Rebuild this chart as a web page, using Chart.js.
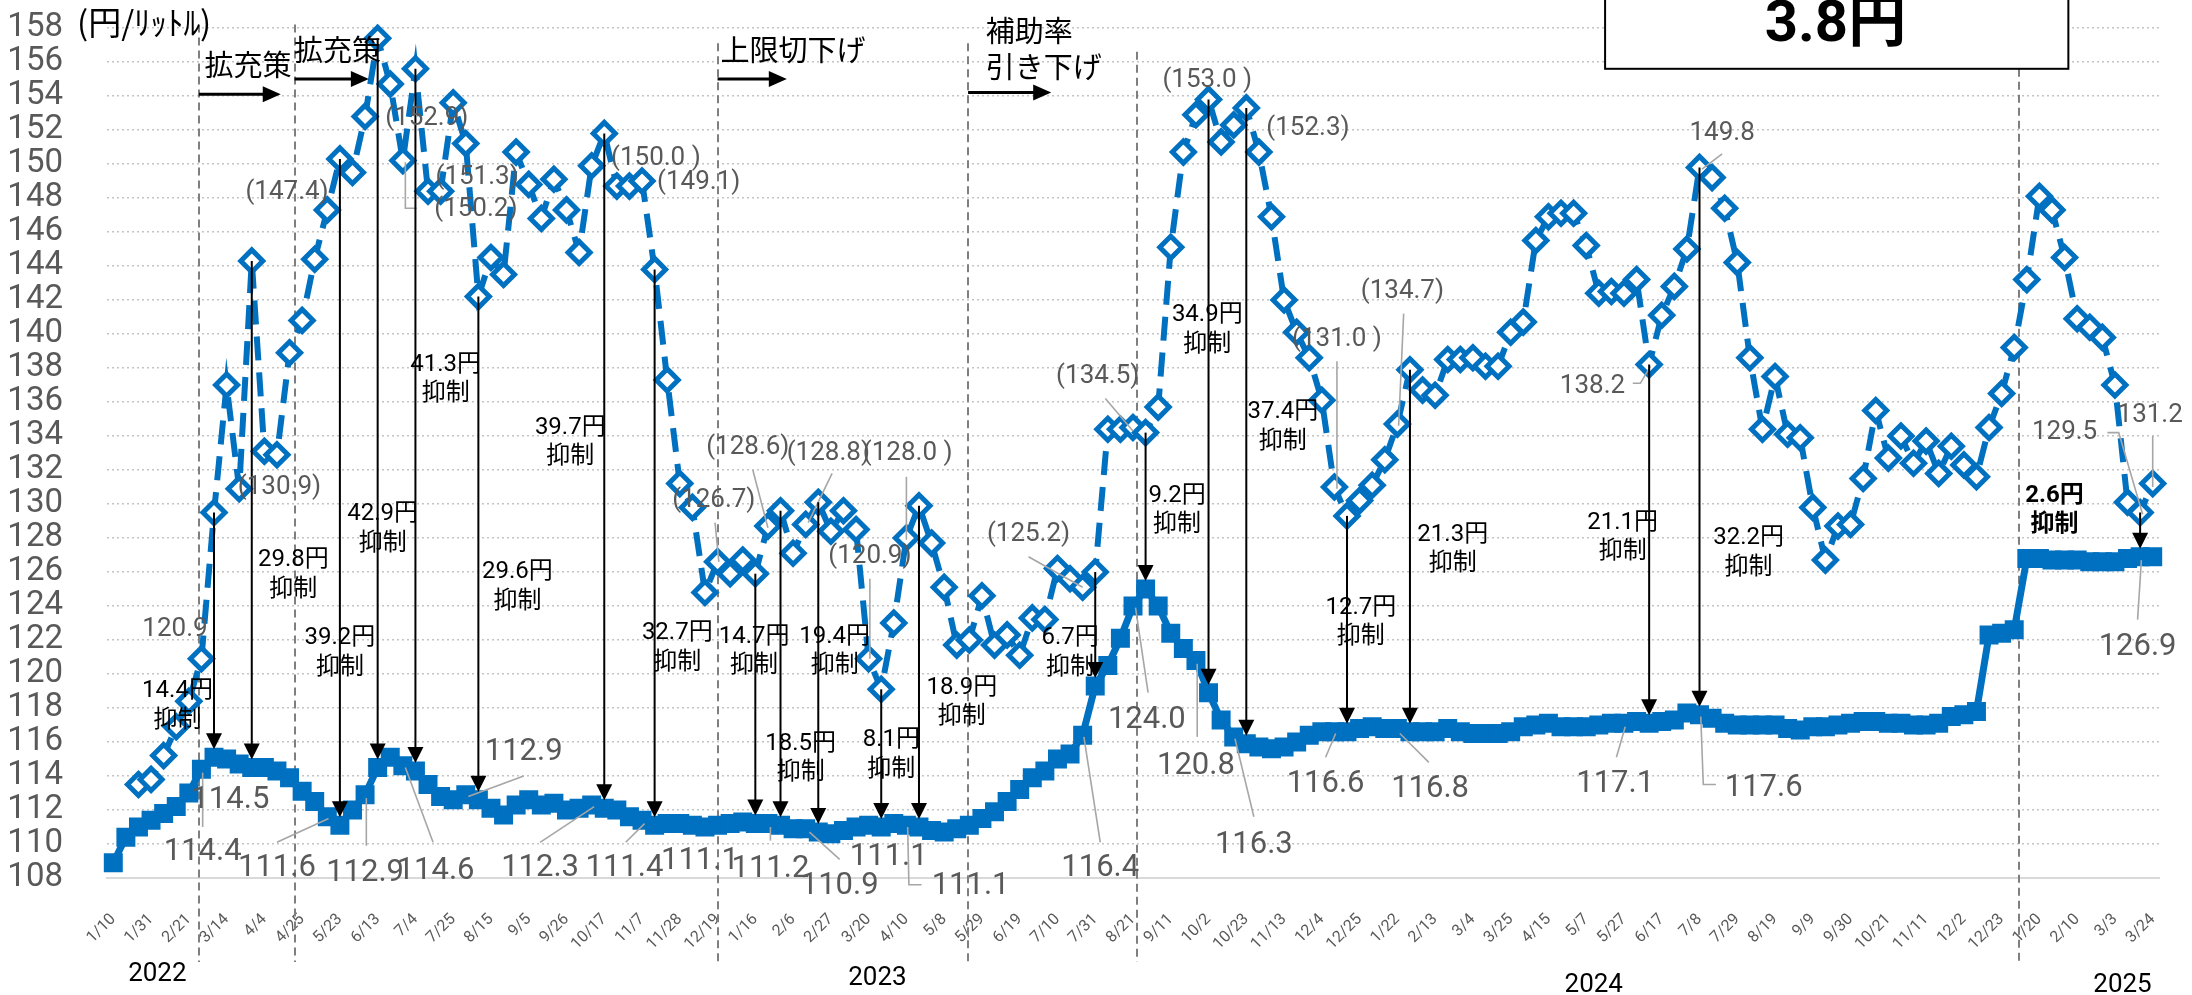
<!DOCTYPE html>
<html>
<head>
<meta charset="utf-8">
<script src="https://cdn.jsdelivr.net/npm/chart.js@4.4.1/dist/chart.umd.min.js"></script>
<style>
  html, body { margin: 0; padding: 0; background: #fff; }
</style>
</head>
<body>
<canvas id="chart" width="2192" height="995"></canvas>
<script>
// 週ごとの目盛り（3週おき）
const tickLabels = ['1/10','1/31','2/21','3/14','4/4','4/25','5/23','6/13','7/4','7/25','8/15','9/5','9/26','10/17','11/7','11/28','12/19',
  '1/16','2/6','2/27','3/20','4/10','5/8','5/29','6/19','7/10','7/31','8/21','9/11','10/2','10/23','11/13','12/4','12/25',
  '1/22','2/13','3/4','3/25','4/15','5/7','5/27','6/17','7/8','7/29','8/19','9/9','9/30','10/21','11/11','12/2','12/23',
  '1/20','2/10','3/3','3/24'];

// 補助後の価格（実線）
const actualPrice = [
  108.9,110.4,111.0,111.4,111.8,112.2,113.0,114.4,115.1,115.0,114.7,114.5,114.5,114.3,113.9,113.1,112.5,111.6,111.1,112.0,
  112.9,114.5,115.1,114.6,114.3,113.5,112.8,112.6,112.9,112.6,112.1,111.7,112.3,112.6,112.3,112.4,112.0,112.1,112.3,112.1,
  112.0,111.6,111.4,111.1,111.2,111.2,111.1,111.0,111.1,111.2,111.3,111.2,111.2,111.1,110.9,110.9,110.7,110.6,110.8,111.0,
  111.1,111.0,111.2,111.1,111.0,110.8,110.7,110.9,111.1,111.5,111.9,112.5,113.2,113.9,114.3,115.0,115.3,116.4,119.3,120.5,
  122.1,124.0,125.0,124.0,122.4,121.5,120.8,118.9,117.3,116.3,115.9,115.7,115.6,115.7,116.0,116.4,116.6,116.6,116.6,116.8,
  116.9,116.8,116.8,116.6,116.6,116.6,116.8,116.6,116.5,116.5,116.5,116.6,116.9,117.0,117.1,116.9,116.9,116.9,117.0,117.1,
  117.1,117.2,117.1,117.2,117.3,117.7,117.6,117.4,117.1,117.0,117.0,117.0,117.0,116.8,116.7,116.9,116.9,117.0,117.1,117.2,
  117.2,117.1,117.1,117.0,117.0,117.1,117.5,117.6,117.8,122.3,122.4,122.6,126.8,126.8,126.7,126.7,126.7,126.6,126.6,126.6,
  126.8,126.9,126.9
];

// 補助がない場合の価格（破線）
const noSubsidyPrice = [
  null,null,113.5,113.8,115.2,116.9,118.4,120.9,129.5,137.0,130.9,144.3,133.1,132.9,138.9,140.8,144.4,147.3,150.3,149.5,
  152.8,157.4,154.7,150.2,155.6,148.4,148.4,153.6,151.2,142.2,144.5,143.5,150.7,148.8,146.8,149.1,147.3,144.8,149.9,151.8,
  148.7,148.7,149.0,143.8,137.3,131.2,129.8,124.8,126.6,125.9,126.7,125.9,128.7,129.6,127.1,128.8,130.1,128.4,129.6,128.5,
  120.9,119.1,123.0,128.0,129.9,127.7,125.1,121.7,122.0,124.6,121.7,122.3,121.1,123.3,123.2,126.2,125.6,125.1,126.0,134.4,
  134.4,134.5,134.2,135.7,145.1,150.7,152.9,153.8,151.3,152.3,153.3,150.7,146.9,142.0,140.1,138.6,136.1,131.0,129.3,130.2,
  131.1,132.6,134.7,137.9,136.7,136.4,138.5,138.5,138.6,138.1,138.1,140.1,140.7,145.5,146.9,147.1,147.1,145.2,142.4,142.5,
  142.4,143.2,138.2,141.1,142.8,145.0,149.8,149.2,147.4,144.2,138.6,134.4,137.5,134.1,133.9,129.8,126.7,128.7,128.8,131.5,
  135.5,132.7,134.0,132.4,133.7,131.8,133.4,132.3,131.6,134.5,136.5,139.2,143.2,148.1,147.3,144.5,140.9,140.4,139.8,137.0,
  130.1,129.5,131.2
];

// 抑制額の矢印: [週, 文字, 文字の位置(週), 文字の位置(値), 太字]
const arrowNotes = [
  [8, '14.4円', 5.1, 119.0], [11, '29.8円', 14.3, 126.7], [18, '39.2円', 18.0, 122.1],
  [21, '42.9円', 21.4, 129.4], [24, '41.3円', 26.4, 138.2], [29, '29.6円', 32.1, 126.0],
  [39, '39.7円', 36.3, 134.5], [43, '32.7円', 44.8, 122.4], [51, '14.7円', 50.9, 122.2],
  [53, '18.5円', 54.6, 115.9], [56, '19.4円', 57.3, 122.2], [61, '8.1円', 61.8, 116.1],
  [64, '18.9円', 67.4, 119.2], [78, '6.7円', 76.0, 122.1], [82, '9.2円', 84.5, 130.5],
  [87, '34.9円', 86.9, 141.1], [90, '37.4円', 92.9, 135.4], [98, '12.7円', 99.1, 123.9],
  [103, '21.3円', 106.4, 128.2], [122, '21.1円', 119.9, 128.9], [126, '32.2円', 129.9, 128.0],
  [161, '2.6円', 154.2, 130.5, true]
];

// 実線のデータラベル: [文字, 週, 値, 引出線]
const actualLabels = [
  ['114.4', 7.1, 109.5, [[7.1,111.0],[7.1,114.2]]],
  ['114.5', 9.3, 112.6],
  ['111.6', 13.0, 108.6, [[13.0,110.1],[17.1,111.5]]],
  ['112.9', 20.0, 108.3, [[20.1,109.9],[20.1,112.7]]],
  ['114.6', 25.6, 108.4, [[25.4,110.1],[23.2,114.5]]],
  ['112.9', 32.6, 115.4, [[32.6,114.0],[28.2,112.8]]],
  ['112.3', 33.9, 108.6, [[33.9,110.1],[38.2,112.2]]],
  ['111.4', 40.6, 108.6, [[40.7,110.1],[42.2,111.2]]],
  ['111.1', 46.6, 109.0],
  ['111.2', 52.2, 108.5, [[52.2,110.2],[52.2,111.0]]],
  ['110.9', 57.7, 107.5, [[57.7,109.1],[55.3,110.7]]],
  ['111.1', 61.6, 109.2],
  ['111.1', 68.1, 107.5, [[63.1,111.0],[63.2,107.6],[64.2,107.6]]],
  ['116.4', 78.4, 108.6, [[78.4,110.1],[77.1,116.3]]],
  ['124.0', 82.1, 117.3, [[82.2,118.9],[81.2,123.9]]],
  ['120.8', 86.0, 114.6, [[86.1,116.3],[86.1,120.6]]],
  ['116.3', 90.6, 109.9, [[90.6,111.6],[89.1,116.2]]],
  ['116.6', 96.3, 113.5, [[96.3,115.1],[97.1,116.5]]],
  ['116.8', 104.6, 113.2, [[104.5,114.8],[102.2,116.5]]],
  ['117.1', 119.3, 113.5, [[119.4,115.1],[120.1,116.9]]],
  ['117.6', 131.1, 113.3, [[127.3,113.5],[126.3,113.5],[126.1,117.5]]],
  ['126.9', 160.8, 121.6, [[160.8,123.2],[161.1,126.7]]]
];

// 破線のデータラベル
const noSubsidyLabels = [
  ['120.9', 4.9, 122.6],
  ['(147.4)', 13.8, 148.3],
  ['(130.9)', 13.2, 131.0],
  ['(152.9)', 24.9, 152.7],
  ['(151.3)', 28.9, 149.2],
  ['(150.2)', 28.8, 147.3, [[23.2,150.1],[23.2,147.4],[24.1,147.4]]],
  ['(150.0 )', 43.1, 150.3],
  ['(149.1)', 46.5, 148.9],
  ['(126.7)', 47.7, 130.2, [[47.8,128.9],[48.1,126.6]]],
  ['(128.6)', 50.4, 133.3, [[50.8,132.0],[52.0,128.6]]],
  ['(128.8)', 56.8, 133.0, [[57.1,131.8],[55.2,128.9]]],
  ['(120.9)', 60.1, 126.9, [[60.1,125.6],[60.1,120.9]]],
  ['(128.0 )', 63.1, 133.0, [[63.0,131.6],[63.0,127.9]]],
  ['(125.2)', 72.7, 128.2, [[72.7,126.9],[77.0,125.1]]],
  ['(134.5)', 78.2, 137.5, [[78.8,136.2],[81.0,134.3]]],
  ['(153.0 )', 86.9, 154.9],
  ['(152.3)', 94.9, 152.1],
  ['(131.0 )', 97.2, 139.7, [[97.2,138.4],[97.2,130.9]]],
  ['(134.7)', 102.4, 142.5, [[102.5,141.2],[102.1,134.6]]],
  ['138.2', 117.5, 136.9, [[120.7,137.1],[121.3,137.1],[122.1,138.1]]],
  ['149.8', 127.8, 151.8, [[127.8,150.6],[126.2,149.7]]],
  ['129.5', 155.0, 134.2, [[158.4,134.2],[159.3,134.2],[161.2,129.4]]],
  ['131.2', 161.8, 135.2, [[162,134.0],[162,131.0]]]
];

// 制度変更の区切り線: [週, 上端の値]
const policyLines = [[6.8, 158.2], [14.4, 158.2], [48.0, 157.1], [67.9, 157.1], [81.3, 156.6], [151.4, 155.6]];
// 制度変更の見出しと矢印: [文字行, 文字の週, 文字の値, 矢印始点, 矢印終点, 矢印の値, 左寄せ]
const policyNotes = [
  [['拡充策'], 10.7, 155.8, 6.8, 13.3, 154.1],
  [['拡充策'], 17.8, 156.7, 14.4, 20.3, 155.0],
  [['上限切下げ'], 54.0, 156.7, 48.0, 53.5, 155.0],
  [['補助率', '引き下げ'], 69.3, 157.8, 67.9, 74.5, 154.2, true]
];
const yearLabels = [['2022', 3.5, 96], ['2023', 60.7, 100], ['2024', 117.6, 107], ['2025', 159.6, 107]];

const weekLabels = [];
tickLabels.forEach((t, k) => {
  weekLabels.push(t);
  if (k < tickLabels.length - 1) weekLabels.push('', '');
});

const BLUE = '#0070C0';
const GRAY = '#595959';
const FONT = 'Roboto, "Noto Sans CJK JP", sans-serif';

function drawText(ctx, s, x, y, size, color, opts = {}) {
  ctx.font = (opts.bold ? 'bold ' : '') + size + 'px ' + (opts.family || FONT);
  ctx.fillStyle = color;
  ctx.textAlign = opts.align || 'center';
  ctx.textBaseline = 'middle';
  ctx.fillText(s, x, y);
}

const notesPlugin = {
  id: 'subsidyNotes',
  beforeDatasetsDraw(chart) {
    const { ctx, scales: { x, y } } = chart;
    ctx.save();
    ctx.strokeStyle = '#7f7f7f';
    ctx.lineWidth = 2;
    ctx.setLineDash([8, 5]);
    policyLines.forEach(([i, top]) => {
      const xx = Math.round(x.getPixelForValue(i));
      ctx.beginPath();
      ctx.moveTo(xx, y.getPixelForValue(top));
      ctx.lineTo(xx, y.bottom + 84);
      ctx.stroke();
    });
    ctx.restore();
  },
  afterDatasetsDraw(chart) {
    const { ctx, scales: { x, y } } = chart;
    ctx.save();
    // 引出線
    ctx.strokeStyle = '#a6a6a6';
    ctx.lineWidth = 1.6;
    [...actualLabels, ...noSubsidyLabels].forEach(l => {
      const pts = l[3];
      if (!pts) return;
      ctx.beginPath();
      pts.forEach(([i, v], k) => {
        const px = x.getPixelForValue(i), py = y.getPixelForValue(v);
        if (k === 0) ctx.moveTo(px, py); else ctx.lineTo(px, py);
      });
      ctx.stroke();
    });
    // 抑制額の矢印
    ctx.strokeStyle = '#000';
    ctx.fillStyle = '#000';
    ctx.lineWidth = 2;
    arrowNotes.forEach(([i]) => {
      const xx = x.getPixelForValue(i);
      const y1 = y.getPixelForValue(noSubsidyPrice[i]);
      const y2 = y.getPixelForValue(actualPrice[i]) - 8;
      ctx.beginPath();
      ctx.moveTo(xx, y1);
      ctx.lineTo(xx, y2 - 14);
      ctx.stroke();
      ctx.beginPath();
      ctx.moveTo(xx - 8, y2 - 16);
      ctx.lineTo(xx + 8, y2 - 16);
      ctx.lineTo(xx, y2);
      ctx.closePath();
      ctx.fill();
    });
    ctx.restore();
  },
  afterDraw(chart) {
    const { ctx, scales: { x, y } } = chart;
    ctx.save();
    const X = i => x.getPixelForValue(i);
    const Y = v => y.getPixelForValue(v);

    arrowNotes.forEach(([, s, li, lv, bold]) => {
      drawText(ctx, s, X(li), Y(lv), 24, '#000', { bold });
      drawText(ctx, '抑制', X(li), Y(lv - 1.75), 24, '#000', { bold });
    });
    actualLabels.forEach(([s, i, v]) => drawText(ctx, s, X(i), Y(v), 31, GRAY));
    noSubsidyLabels.forEach(([s, i, v]) => drawText(ctx, s, X(i), Y(v), 26, GRAY));

    // 制度変更の見出し
    ctx.strokeStyle = '#000';
    ctx.fillStyle = '#000';
    policyNotes.forEach(([lines, ti, tv, a0, a1, av, left]) => {
      lines.forEach((s, k) => {
        drawText(ctx, s, X(ti), Y(tv - k * 2.1), 29, '#000',
          { align: left ? 'left' : 'center', family: '"Noto Sans CJK JP", sans-serif' });
      });
      const ay = Y(av), xs = X(a0), xe = X(a1);
      ctx.lineWidth = 3;
      ctx.beginPath();
      ctx.moveTo(xs, ay);
      ctx.lineTo(xe - 16, ay);
      ctx.stroke();
      ctx.beginPath();
      ctx.moveTo(xe - 18, ay - 8);
      ctx.lineTo(xe, ay);
      ctx.lineTo(xe - 18, ay + 8);
      ctx.closePath();
      ctx.fill();
    });

    // 単位
    drawText(ctx, '(円/ﾘｯﾄﾙ)', chart.chartArea.left - 30, chart.chartArea.top - 6, 33, '#000',
      { align: 'left', family: '"Noto Sans CJK JP", sans-serif' });

    // 上部の囲み
    const bx0 = X(118.5), bx1 = X(155.3), by1 = Y(155.6);
    ctx.fillStyle = '#fff';
    ctx.fillRect(bx0, -4, bx1 - bx0, by1 + 4);
    ctx.lineWidth = 2;
    ctx.strokeStyle = '#000';
    ctx.strokeRect(bx0, -4, bx1 - bx0, by1 + 4);
    drawText(ctx, '3.8円', X(136.8), Y(158.1), 58, '#000', { bold: true });

    // 年
    yearLabels.forEach(([s, i, dy]) => drawText(ctx, s, X(i), y.bottom + dy, 26, '#000'));
    ctx.restore();
  }
};

new Chart(document.getElementById('chart'), {
  type: 'line',
  data: {
    labels: weekLabels,
    datasets: [
      {
        label: '補助なし',
        data: noSubsidyPrice,
        borderColor: BLUE,
        borderWidth: 6,
        borderDash: [24, 12],
        pointStyle: 'rectRot',
        pointRadius: 11,
        pointBorderWidth: 5,
        pointBackgroundColor: '#fff',
        pointBorderColor: BLUE,
        spanGaps: false,
        clip: false
      },
      {
        label: '補助あり',
        data: actualPrice,
        borderColor: BLUE,
        borderWidth: 7,
        pointStyle: 'rect',
        pointRadius: 12,
        pointBorderWidth: 2,
        pointBackgroundColor: BLUE,
        pointBorderColor: BLUE,
        clip: false
      }
    ]
  },
  options: {
    responsive: false,
    animation: false,
    devicePixelRatio: 1,
    layout: { padding: { top: 28, right: 33, left: 0, bottom: 0 } },
    plugins: { legend: { display: false }, tooltip: { enabled: false } },
    scales: {
      x: {
        type: 'category',
        offset: true,
        grid: { display: false, drawTicks: false },
        border: { display: true, color: '#d9d9d9', width: 2 },
        ticks: {
          autoSkip: false, maxRotation: 45, minRotation: 45, padding: 32,
          color: GRAY, font: { family: 'Roboto', size: 16 }
        },
        afterFit(s) {
          s.height = 117;
          s.paddingLeft = 0;
          s.paddingRight = 0;
        }
      },
      y: {
        min: 108,
        max: 158,
        ticks: { stepSize: 2, autoSkip: false, padding: 44, color: GRAY, font: { family: 'Roboto', size: 33 } },
        grid: { color: '#c4c4c4', lineWidth: 1.5, drawTicks: false },
        border: { display: false, dash: [2, 3] },
        afterFit(s) {
          s.width = 107;
          s.paddingTop = 0;
          s.paddingBottom = 0;
        }
      }
    }
  },
  plugins: [notesPlugin]
});
</script>
</body>
</html>
